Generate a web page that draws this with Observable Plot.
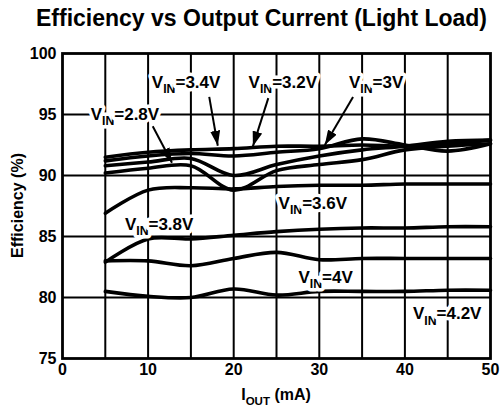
<!DOCTYPE html>
<html><head><meta charset="utf-8">
<script src="https://cdn.jsdelivr.net/npm/d3@7"></script>
<script src="https://cdn.jsdelivr.net/npm/@observablehq/plot@0.6"></script>
<style>
html,body{margin:0;padding:0;background:#fff;}
body{width:503px;font-family:"Liberation Sans",Arial,Helvetica,sans-serif;}
#title{height:40px;box-sizing:border-box;padding-top:5px;padding-left:20px;text-align:center;font-weight:bold;font-size:23px;line-height:26px;color:#000;white-space:nowrap;}
#chart svg{display:block;}
</style></head><body>
<div id="title">Efficiency vs Output Current (Light Load)</div>
<div id="chart"></div>
<script>
// Output current (mA) sample points
const iout = [5, 10, 15, 20, 25, 30, 35, 40, 45, 50];
// Efficiency (%) per input voltage
const eff34 = [91.5, 91.9, 92.1, 92.2, 92.4, 92.4, 92.5, 92.4, 92.6, 92.9];
const eff32 = [91.2, 91.6, 91.8, 91.6, 91.9, 92.2, 93.0, 92.5, 92.0, 92.6];
const eff30 = [90.8, 91.1, 91.4, 90.0, 90.9, 91.6, 92.1, 92.4, 92.8, 92.9];
const eff28 = [90.2, 90.6, 90.8, 88.8, 90.4, 90.9, 91.3, 92.1, 92.4, 92.6];
const eff36 = [86.9, 88.8, 89.0, 88.9, 89.1, 89.2, 89.2, 89.3, 89.3, 89.3];
const eff38 = [82.9, 84.8, 84.8, 85.1, 85.4, 85.6, 85.7, 85.7, 85.8, 85.8];
const eff40 = [83.0, 83.0, 82.6, 83.2, 83.7, 83.1, 83.2, 83.2, 83.2, 83.2];
const eff42 = [80.5, 80.1, 80.0, 80.7, 80.2, 80.5, 80.5, 80.5, 80.6, 80.6];
const vinNames = ["3.4V", "3.2V", "3V", "2.8V", "3.6V", "3.8V", "4V", "4.2V"];
const xTicks = [0, 10, 20, 30, 40, 50];
const yTicks = [75, 80, 85, 90, 95, 100];

// Annotation anchors (data units)
const labelVin = ["3.4V", "3.2V", "3V", "2.8V", "3.6V", "3.8V", "4V", "4.2V"];
const labelX = [14.5, 25.8, 36.7, 7.35, 29.3, 11.35, 30.8, 45.0];
const labelY = [97.6, 97.6, 97.6, 95.0, 87.7, 86.0, 81.65, 78.65];
const arrowFromX = [17.2, 24.1, 34.0, 10.6];
const arrowFromY = [96.4, 96.3, 96.4, 94.0];
const arrowToX = [18.2, 22.3, 30.7, 12.85];
const arrowToY = [92.4, 92.35, 92.45, 91.0];

const effSeries = [eff34, eff32, eff30, eff28, eff36, eff38, eff40, eff42];
const data = effSeries.flatMap((vals, s) => iout.map((x, i) => ({vin: vinNames[s], x, y: vals[i]})));

const plot = Plot.plot({
  width: 503, height: 369,
  marginLeft: 62, marginRight: 13, marginTop: 13, marginBottom: 51,
  x: {domain: [0, 50]},
  y: {domain: [75, 100]},
  style: {fontFamily: "'Liberation Sans', Arial, Helvetica, sans-serif", fontSize: "16px", color: "#000", background: "#fff", overflow: "visible"},
  marks: [
    Plot.gridX(d3.range(5, 50, 5), {stroke: "#000", strokeOpacity: 1, strokeWidth: 2}),
    Plot.gridY(d3.range(80, 100, 5), {stroke: "#000", strokeOpacity: 1, strokeWidth: 2}),
    Plot.line(data, {x: "x", y: "y", z: "vin", curve: "catmull-rom", stroke: "#000", strokeWidth: 3.6}),
    Plot.frame({stroke: "#000", strokeWidth: 2.8}),
    Plot.axisX({ticks: xTicks, tickSize: 0, tickPadding: 5, label: null, fontSize: 16, fontWeight: "bold"}),
    Plot.axisY({ticks: yTicks, tickSize: 0, tickPadding: 6, label: null, fontSize: 16, fontWeight: "bold"})
  ]
});
document.getElementById("chart").appendChild(plot);

const sx = plot.scale("x"), sy = plot.scale("y");
const svg = d3.select(plot);

// arrowhead marker
const defs = svg.append("defs");
defs.append("marker").attr("id", "ah").attr("viewBox", "0 0 10 10")
  .attr("refX", 10).attr("refY", 5).attr("markerWidth", 15).attr("markerHeight", 10)
  .attr("markerUnits", "userSpaceOnUse").attr("orient", "auto")
  .attr("preserveAspectRatio", "none")
  .append("path").attr("d", "M0,0 L10,5 L0,10 Z").attr("fill", "#000");

const g = svg.append("g");
arrowFromX.forEach((_, i) => {
  g.append("line")
    .attr("x1", sx.apply(arrowFromX[i])).attr("y1", sy.apply(arrowFromY[i]))
    .attr("x2", sx.apply(arrowToX[i])).attr("y2", sy.apply(arrowToY[i]))
    .attr("stroke", "#000").attr("stroke-width", 2).attr("marker-end", "url(#ah)");
});

function subText(parent, x, y, main, sub, rest, size, anchor, halo, weight) {
  const t = parent.append("text").attr("x", x).attr("y", y)
    .attr("text-anchor", anchor).attr("font-size", size).attr("fill", "#000")
    .attr("font-weight", weight || "normal");
  if (halo) t.attr("stroke", "#fff").attr("stroke-width", 7).attr("paint-order", "stroke").attr("stroke-linejoin", "round");
  t.append("tspan").text(main);
  t.append("tspan").attr("font-size", size * 0.72).attr("dy", size * 0.3).text(sub);
  t.append("tspan").attr("dy", -size * 0.3).text(rest);
  return t;
}

labelVin.forEach((v, i) => {
  subText(g, sx.apply(labelX[i]), sy.apply(labelY[i]) + 6, "V", "IN", "=" + v, 17, "middle", true, "bold");
});

// axis titles
const xr = sx.range, yr = sy.range;
subText(svg, (xr[0] + xr[1]) / 2, 360, "I", "OUT", " (mA)", 16, "middle", false, "bold");
svg.append("text")
  .attr("transform", `translate(23,${(yr[0] + yr[1]) / 2}) rotate(-90)`)
  .attr("text-anchor", "middle").attr("font-size", 16).attr("font-weight", "bold").attr("fill", "#000")
  .text("Efficiency (%)");
</script>
</body></html>
